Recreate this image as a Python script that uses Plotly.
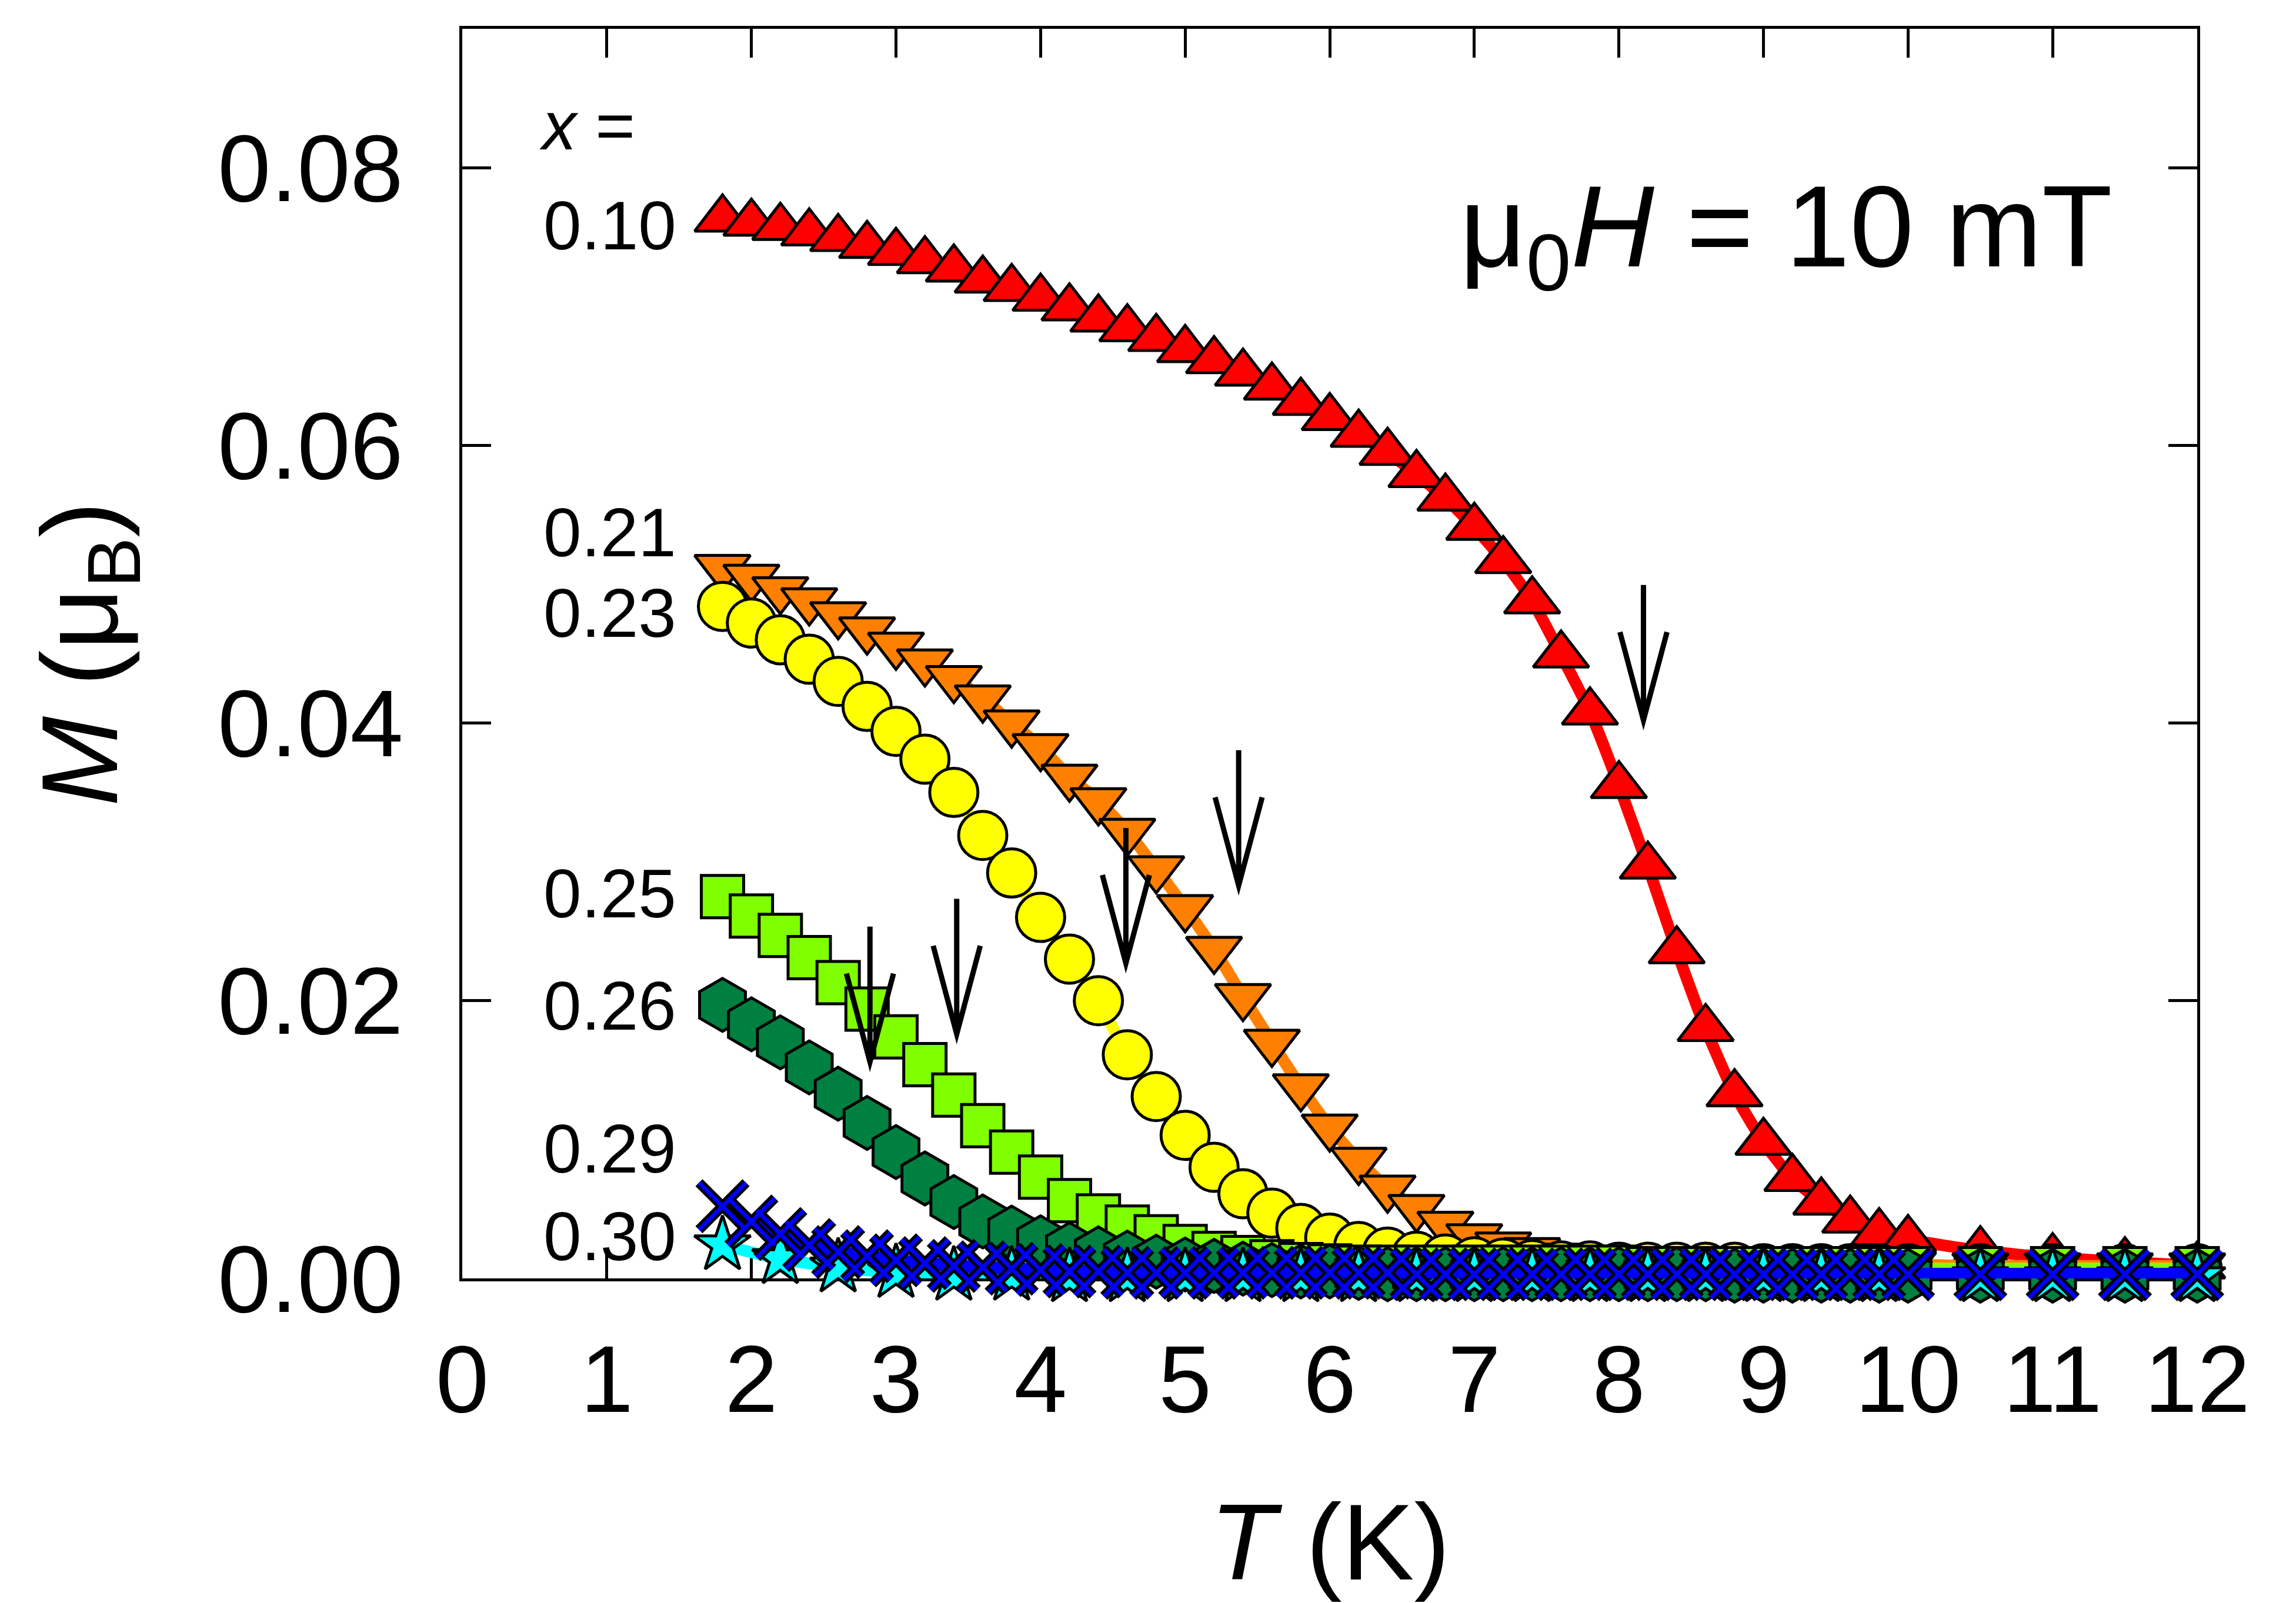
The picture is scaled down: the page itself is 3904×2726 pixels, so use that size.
import plotly.graph_objects as go

# temperature grid shared by most series (K)
T = [1.8, 2.0, 2.2, 2.4, 2.6, 2.8, 3.0, 3.2, 3.4, 3.6, 3.8, 4.0, 4.2, 4.4, 4.6,
     4.8, 5.0, 5.2, 5.4, 5.6, 5.8, 6.0, 6.2, 6.4, 6.6, 6.8, 7.0, 7.2, 7.4, 7.6,
     7.8, 8.0, 8.2, 8.4, 8.6, 8.8, 9.0, 9.2, 9.4, 9.6, 9.8, 10.0, 10.5, 11.0,
     11.5, 12.0]

# magnetisation (mu_B) for each composition x
M_010 = [0.0763, 0.0760, 0.0757, 0.0753, 0.0749, 0.0744, 0.0739, 0.0733, 0.0727,
         0.0719, 0.0713, 0.0706, 0.0699, 0.0691, 0.0684, 0.0677, 0.0669, 0.0661,
         0.0652, 0.0642, 0.0631, 0.0620, 0.0608, 0.0595, 0.0579, 0.0562, 0.0541,
         0.0517, 0.0488, 0.0449, 0.0408, 0.0355, 0.0297, 0.0236, 0.0180, 0.0133,
         0.0098, 0.0072, 0.0055, 0.0042, 0.0033, 0.0028, 0.0020, 0.0015, 0.0012,
         0.0009]
M_021 = [0.0512, 0.0505, 0.0496, 0.0488, 0.0478, 0.0467, 0.0456, 0.0444, 0.0432,
         0.0418, 0.0400, 0.0383, 0.0361, 0.0344, 0.0322, 0.0295, 0.0267, 0.0237,
         0.0203, 0.0170, 0.0138, 0.0109, 0.0085, 0.0065, 0.0051, 0.0039, 0.0030,
         0.0024, 0.0020, 0.0016, 0.0014, 0.0013, 0.0012, 0.0012, 0.0011, 0.0011,
         0.0011, 0.0010, 0.0010, 0.0010, 0.0010, 0.0010, 0.0009, 0.0009, 0.0009,
         0.0009]
M_023 = [0.0484, 0.0472, 0.0460, 0.0446, 0.0430, 0.0412, 0.0394, 0.0374, 0.0350,
         0.0319, 0.0292, 0.0260, 0.0230, 0.0200, 0.0161, 0.0131, 0.0103, 0.0080,
         0.0061, 0.0047, 0.0036, 0.0029, 0.0023, 0.0019, 0.0016, 0.0014, 0.0012,
         0.0011, 0.0010, 0.0009, 0.0009, 0.0008, 0.0008, 0.0008, 0.0008, 0.0008,
         0.0007, 0.0007, 0.0007, 0.0007, 0.0007, 0.0007, 0.0007, 0.0007, 0.0007,
         0.0007]
M_025 = [0.0275, 0.0261, 0.0247, 0.0231, 0.0213, 0.0194, 0.0174, 0.0154, 0.0132,
         0.0110, 0.0091, 0.0073, 0.0056, 0.0045, 0.0037, 0.0030, 0.0023, 0.0018,
         0.0015, 0.0012, 0.0010, 0.0009, 0.0008, 0.0008, 0.0008, 0.0008, 0.0008,
         0.0008, 0.0008, 0.0008, 0.0008, 0.0008, 0.0007, 0.0007, 0.0007, 0.0007,
         0.0007, 0.0007, 0.0007, 0.0007, 0.0007, 0.0007, 0.0007, 0.0007, 0.0007,
         0.0007]
M_026 = [0.0197, 0.0183, 0.0170, 0.0152, 0.0133, 0.0112, 0.0091, 0.0072, 0.0055,
         0.0041, 0.0033, 0.0026, 0.0021, 0.0018, 0.0015, 0.0012, 0.0010, 0.0009,
         0.0007, 0.0006, 0.0005, 0.0005, 0.0004, 0.0003, 0.0003, 0.0003, 0.0003,
         0.0003, 0.0003, 0.0003, 0.0003, 0.0003, 0.0003, 0.0003, 0.0003, 0.0002,
         0.0002, 0.0002, 0.0002, 0.0002, 0.0002, 0.0002, 0.0002, 0.0002, 0.0002,
         0.0002]
M_029 = [0.0052, 0.0041, 0.0032, 0.0024, 0.0019, 0.0016, 0.0013, 0.0011, 0.0009,
         0.0008, 0.0007, 0.0006, 0.0005, 0.0005, 0.0004, 0.0004, 0.0004, 0.0004,
         0.0004, 0.0004, 0.0004, 0.0004, 0.0004, 0.0004, 0.0003, 0.0003, 0.0003,
         0.0003, 0.0003, 0.0003, 0.0003, 0.0003, 0.0003, 0.0003, 0.0003, 0.0003,
         0.0003, 0.0003, 0.0003, 0.0003, 0.0003, 0.0003, 0.0003, 0.0003, 0.0003,
         0.0003]
T_030 = [1.8, 2.2, 2.6, 3.0, 3.4, 3.8, 4.2, 4.6, 5.0, 5.4, 5.8, 6.2, 6.6, 7.0,
         7.4, 7.8, 8.2, 8.6, 9.0, 9.4, 9.8, 10.5, 11.0, 11.5, 12.0]
M_030 = [0.0024, 0.0014, 0.0008, 0.0004, 0.0002, 0.0002, 0.0001, 0.0001, 0.0001,
         0.0001, 0.0001, 0.0001, 0.0001, 0.0001, 0.0001, 0.0001, 0.0001, 0.0001,
         0.0001, 0.0001, 0.0001, 0.0001, 0.0001, 0.0001, 0.0001]

# transition arrows (tip position)
arrow_T = [8.17, 5.37, 4.59, 3.42, 2.82]
arrow_M = [0.0402, 0.0283, 0.0227, 0.0176, 0.0156]

# composition labels
x_labels = ["0.10", "0.21", "0.23", "0.25", "0.26", "0.29", "0.30"]
x_label_M = [0.0758, 0.0537, 0.0479, 0.0277, 0.0196, 0.0093, 0.0030]

FONT = "Liberation Sans, Arial, sans-serif"

series = [
    (T, M_010, "#FF0000", "triangle-up", 82),
    (T, M_021, "#FF8000", "triangle-down", 82),
    (T, M_023, "#FFFF00", "circle", 82),
    (T, M_025, "#80FF00", "square", 72),
    (T, M_026, "#008040", "hexagon", 90),
    (T_030, M_030, "#00FFFF", "star", 72),
]

fig = go.Figure()

for xs, ys, color, symbol, size in series:
    fig.add_trace(go.Scatter(
        x=xs, y=ys, mode="lines+markers",
        line=dict(color=color, width=20, shape="spline", smoothing=0.6),
        marker=dict(symbol=symbol, size=size, color=color,
                    line=dict(color="black", width=5)),
        cliponaxis=False, showlegend=False,
    ))

# x = 0.29: blue crosses with black outline
fig.add_trace(go.Scatter(
    x=T, y=M_029, mode="lines",
    line=dict(color="#0000FF", width=22, shape="spline", smoothing=0.6),
    cliponaxis=False, showlegend=False,
))
fig.add_trace(go.Scatter(
    x=T, y=M_029, mode="markers",
    marker=dict(symbol="x-thin", size=80, color="black",
                line=dict(color="black", width=17)),
    cliponaxis=False, showlegend=False,
))
fig.add_trace(go.Scatter(
    x=T, y=M_029, mode="markers",
    marker=dict(symbol="x-thin", size=80, color="#0000FF",
                line=dict(color="#0000FF", width=7)),
    cliponaxis=False, showlegend=False,
))

# arrows drawn in pixel units anchored at the tip
for ta, ma in zip(arrow_T, arrow_M):
    fig.add_shape(
        type="path", xref="x", yref="y",
        xsizemode="pixel", ysizemode="pixel", xanchor=ta, yanchor=ma,
        path="M0,230 L0,0 M-40,150 L0,0 L40,150",
        line=dict(color="black", width=9),
    )

for lab, ym in zip(x_labels, x_label_M):
    fig.add_annotation(x=1.49, y=ym, xref="x", yref="y", text=lab,
                       showarrow=False, xanchor="right", yanchor="middle",
                       font=dict(family=FONT, size=116, color="black"))
fig.add_annotation(x=1.204, y=0.0830, xref="x", yref="y", text="<i>x</i> =",
                   showarrow=False, xanchor="right", yanchor="middle",
                   font=dict(family=FONT, size=116, color="black"))

fig.add_annotation(x=0.952, y=0.835, xref="paper", yref="paper",
                   text="μ<sub>0</sub><i>H</i> = 10 mT", showarrow=False,
                   xanchor="right", yanchor="middle",
                   font=dict(family=FONT, size=196, color="black"))

# axis titles
fig.add_annotation(x=0.5, y=-0.211, xref="paper", yref="paper",
                   text="<i>T</i> (K)", showarrow=False,
                   xanchor="center", yanchor="middle",
                   font=dict(family=FONT, size=184, color="black"))
fig.add_annotation(x=-0.216, y=0.5, xref="paper", yref="paper",
                   text="<i>M</i> (μ<sub>B</sub>)", showarrow=False, textangle=-90,
                   xanchor="center", yanchor="middle",
                   font=dict(family=FONT, size=184, color="black"))

axis_common = dict(
    showline=True, linecolor="black", linewidth=5, mirror="ticks",
    ticks="inside", ticklen=49, tickwidth=5, tickcolor="black",
    showgrid=False, zeroline=False, layer="below traces",
    tickfont=dict(family=FONT, size=162, color="black"),
)

fig.update_xaxes(range=[0, 12], dtick=1, tick0=0, ticklabelstandoff=28,
                 **axis_common)
fig.update_yaxes(range=[0, 0.09], dtick=0.02, tick0=0, tickformat=".2f",
                 ticklabelstandoff=63, **axis_common)

fig.update_layout(
    width=3904, height=2726,
    margin=dict(l=778, r=176, t=41, b=560),
    paper_bgcolor="white", plot_bgcolor="white",
    showlegend=False,
)

fig.write_html("out.html")
